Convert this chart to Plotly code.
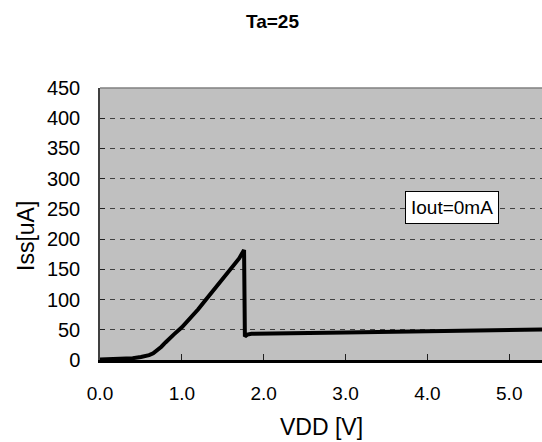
import plotly.graph_objects as go

# Data
vdd = [0.0, 0.2, 0.4, 0.5, 0.55, 0.6, 0.65, 0.7, 0.75, 0.8, 0.85, 0.9, 1.0, 1.1, 1.2,
       1.3, 1.4, 1.5, 1.6, 1.7, 1.76, 1.77, 1.8, 1.85, 3.0, 4.0, 5.0, 5.4]
iss = [1, 1.5, 3, 5, 6, 8, 11, 16, 22, 29, 36, 42, 54, 68, 84,
       101, 118, 135, 151, 168, 182, 39, 42, 43.5, 45.5, 47.5, 49.5, 50.5]

x_ticks = [0, 1, 2, 3, 4, 5]
x_labels = ["0.0", "1.0", "2.0", "3.0", "4.0", "5.0"]
y_ticks = [0, 50, 100, 150, 200, 250, 300, 350, 400, 450]

FONT = "Liberation Sans, Arial, sans-serif"

fig = go.Figure()
fig.add_trace(go.Scatter(x=vdd, y=iss, mode="lines",
                         line=dict(color="black", width=4), showlegend=False,
                         hoverinfo="skip"))

fig.update_layout(
    width=542, height=442,
    margin=dict(l=100, r=0, t=88, b=82),
    paper_bgcolor="white", plot_bgcolor="#C0C0C0",
    font=dict(family=FONT, color="black", size=19),
    showlegend=False,
    xaxis=dict(range=[0, 5.4], tickvals=x_ticks, ticktext=x_labels,
               showgrid=False, zeroline=False,
               showline=True, linecolor="black", linewidth=2.5,
               ticks="inside", ticklen=6, tickcolor="#202020", tickwidth=1,
               ticklabelstandoff=14, tickfont=dict(size=19)),
    yaxis=dict(range=[0, 450], tickvals=y_ticks,
               showgrid=True, gridcolor="#404040", griddash="5px,5px", gridwidth=1,
               zeroline=False,
               showline=True, linecolor="#404040", linewidth=1.5,
               ticks="inside", ticklen=5, tickcolor="#202020", tickwidth=1,
               ticklabelstandoff=14, tickfont=dict(size=20)),
    shapes=[dict(type="line", xref="paper", yref="paper", x0=0, x1=1, y0=1, y1=1,
                 line=dict(color="#808080", width=1.5))],
    annotations=[
        dict(text="<b>Ta=25</b>", xref="paper", yref="paper",
             x=(272 - 100) / 442, y=(442 - 21 - 82) / 272,
             xanchor="center", yanchor="middle",
             showarrow=False, font=dict(size=19)),
        dict(text="VDD [V]", xref="paper", yref="paper", x=0.5, y=0,
             xanchor="center", yanchor="middle",
             yshift=-67, showarrow=False, font=dict(size=23)),
        dict(text="Iss[uA]", xref="paper", yref="paper", x=0, y=0.5,
             xanchor="center", yanchor="middle",
             xshift=-74, yshift=-12, textangle=-90, showarrow=False, font=dict(size=23)),
        dict(text="Iout=0mA", x=4.3, y=252, xref="x", yref="y",
             xanchor="center", yanchor="middle",
             showarrow=False, bgcolor="white", bordercolor="black", borderwidth=1,
             borderpad=5, font=dict(size=19)),
    ],
)

fig.write_html("out.html")
